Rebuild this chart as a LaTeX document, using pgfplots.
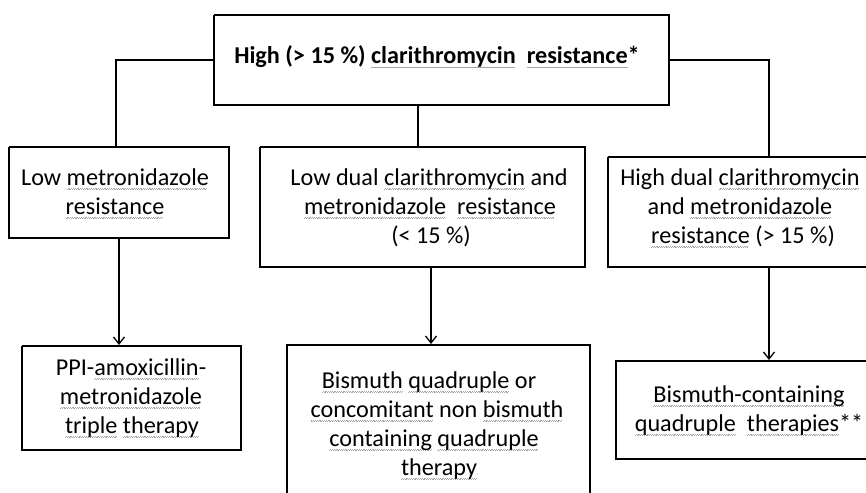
\documentclass[border=0pt]{standalone}
\usepackage{pgfplots}
\pgfplotsset{compat=1.18}
\usetikzlibrary{arrows.meta}
\usepackage{fontspec}
\setmainfont{Carlito}
\newsavebox\sqbox
\newcommand\sq[1]{\sbox\sqbox{#1}\rlap{\color{black!35}\leaders\hbox{\rule[-4.2bp]{0.9bp}{0.7bp}\rule[-3.4bp]{0.9bp}{0.7bp}}\hskip\wd\sqbox}\usebox\sqbox}
\begin{document}
\begin{tikzpicture}
\useasboundingbox (0,0) rectangle (866bp,493bp);
\begin{axis}[
  hide axis, scale only axis,
  width=866bp, height=493bp,
  xmin=0, xmax=866, ymin=0, ymax=493,
  y dir=reverse,
  clip=true,
  anchor=south west, at={(0,0)},
]
\pgfplotsset{every axis plot/.append style={black}}
% boxes
\addplot[line width=2.6bp] coordinates {(214,15) (669,15) (669,105) (214,105) (214,15)};
\addplot[line width=2.6bp] coordinates {(9,147) (229,147) (229,238) (9,238) (9,147)};
\addplot[line width=2.6bp] coordinates {(260,147) (585,147) (585,267) (260,267) (260,147)};
\addplot[line width=2.6bp] coordinates {(608,157) (875,157) (875,267) (608,267) (608,157)};
\addplot[line width=2.6bp] coordinates {(22,346) (241,346) (241,450) (22,450) (22,346)};
\addplot[line width=2.6bp] coordinates {(287,505) (287,345) (590,345) (590,505)};
\addplot[line width=2.6bp] coordinates {(875,361) (616,361) (616,459) (875,459)};
% connectors
\addplot[line width=1.3bp] coordinates {(214,60) (116,60) (116,147)};
\addplot[line width=1.3bp] coordinates {(669,60) (769,60) (769,157)};
\addplot[line width=1.3bp] coordinates {(418,105) (418,147)};
\addplot[line width=1.3bp, -{Straight Barb[length=7bp,width=11bp,line width=1.3bp]}] coordinates {(119,238) (119,345)};
\addplot[line width=1.3bp, -{Straight Barb[length=7bp,width=11bp,line width=1.3bp]}] coordinates {(431,267) (431,344)};
\addplot[line width=1.3bp, -{Straight Barb[length=7bp,width=11bp,line width=1.3bp]}] coordinates {(769,267) (769,360)};
% texts
\tikzset{t/.style={anchor=base, inner sep=0pt, font=\fontsize{24.2bp}{29bp}\selectfont}}
\node[t] at (axis cs:437,64) {\textbf{High (> 15 \%) \sq{clarithromycin}\ \ \sq{resistance}*}};
\node[t] at (axis cs:115,185) {Low \sq{metronidazole}};
\node[t] at (axis cs:115,214) {\sq{resistance}};
\node[t] at (axis cs:429,185) {Low dual \sq{clarithromycin} and};
\node[t] at (axis cs:430,214) {\sq{metronidazole}\ \ \sq{resistance}};
\node[t] at (axis cs:431,243) {(< 15 \%)};
\node[t] at (axis cs:740,185) {High dual \sq{clarithromycin}};
\node[t] at (axis cs:740,214) {and \sq{metronidazole}};
\node[t] at (axis cs:743,243) {\sq{resistance} (> 15 \%)};
\node[t] at (axis cs:131,375) {PPI-\sq{amoxicillin}-};
\node[t] at (axis cs:131,404) {\sq{metronidazole}};
\node[t] at (axis cs:132,433) {\sq{triple} \sq{therapy}};
\node[t] at (axis cs:429,388) {\sq{Bismuth} \sq{quadruple} or};
\node[t] at (axis cs:437,417) {\sq{concomitant} non \sq{bismuth}};
\node[t] at (axis cs:434,446) {\sq{containing} \sq{quadruple}};
\node[t] at (axis cs:439,475) {\sq{therapy}};
\node[t] at (axis cs:749,402) {\sq{Bismuth-containing}};
\node[t] at (axis cs:749,431) {\sq{quadruple}\ \ \sq{therapies}**};
\end{axis}
\end{tikzpicture}
\end{document}
